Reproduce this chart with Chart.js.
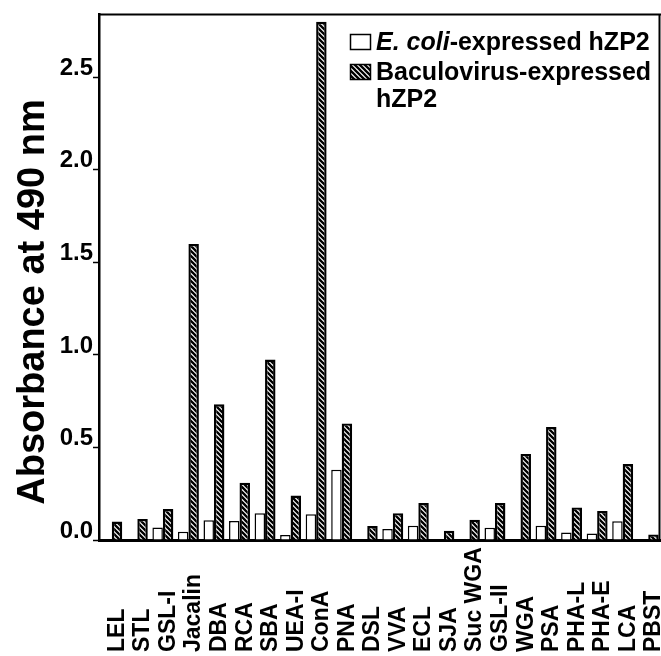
<!DOCTYPE html>
<html>
<head>
<meta charset="utf-8">
<style>
  html, body { margin: 0; padding: 0; background: #fff; }
  #wrap { width: 661px; height: 656px; }
</style>
<script src="https://cdn.jsdelivr.net/npm/chart.js@4.4.0/dist/chart.umd.min.js"></script>
</head>
<body>
<div id="wrap"><canvas id="chart" width="661" height="656"></canvas></div>
<script>
// lectins on the x axis
const lectins = ['LEL', 'STL', 'GSL-I', 'Jacalin', 'DBA', 'RCA', 'SBA', 'UEA-I', 'ConA', 'PNA', 'DSL',
  'VVA', 'ECL', 'SJA', 'Suc WGA', 'GSL-II', 'WGA', 'PSA', 'PHA-L', 'PHA-E', 'LCA', 'PBST'];
// absorbance
const ecoliValues = [0, 0, 0.068, 0.045, 0.107, 0.103, 0.144, 0.027, 0.139, 0.38, 0,
  0.06, 0.077, 0, 0, 0.066, 0, 0.077, 0.04, 0.035, 0.101, 0];
const baculoValues = [0.10, 0.114, 0.167, 1.60, 0.733, 0.31, 0.975, 0.24, 2.80, 0.63, 0.075,
  0.145, 0.20, 0.05, 0.11, 0.20, 0.465, 0.61, 0.176, 0.157, 0.41, 0.03];
const yTicks = [0, 0.5, 1.0, 1.5, 2.0, 2.5];
const yTitle = 'Absorbance at 490 nm';
const seriesNames = ['E. coli-expressed hZP2', 'Baculovirus-expressed hZP2'];

const canvas = document.getElementById('chart');
const ctx = canvas.getContext('2d');

function makeHatch(size, lw) {
  const c = document.createElement('canvas');
  c.width = size; c.height = size;
  const g = c.getContext('2d');
  g.fillStyle = '#fff';
  g.fillRect(0, 0, size, size);
  g.strokeStyle = '#000';
  g.lineWidth = lw;
  g.beginPath();
  g.moveTo(-1, -1); g.lineTo(size + 1, size + 1);
  g.moveTo(-1, size - 1); g.lineTo(1, size + 1);
  g.moveTo(size - 1, -1); g.lineTo(size + 1, 1);
  g.stroke();
  return ctx.createPattern(c, 'repeat');
}
const hatch = makeHatch(5, 2.3);

const FONT = 'Arial, "Liberation Sans", sans-serif';

const decor = {
  id: 'decor',
  afterDraw(chart) {
    const { ctx, chartArea: a, scales: { x } } = chart;
    ctx.save();
    // top and right frame
    ctx.strokeStyle = '#000';
    ctx.lineWidth = 2;
    ctx.beginPath();
    ctx.moveTo(a.left, a.top);
    ctx.lineTo(a.right, a.top);
    ctx.moveTo(a.right - 1.5, a.top);
    ctx.lineTo(a.right - 1.5, a.bottom);
    ctx.stroke();

    // x labels, bottom aligned
    ctx.fillStyle = '#000';
    ctx.font = 'bold 23px ' + FONT;
    ctx.textAlign = 'left';
    ctx.textBaseline = 'alphabetic';
    lectins.forEach((lab, i) => {
      const px = x.getPixelForValue(i) + 4 + 8;
      ctx.save();
      ctx.translate(px, 652);
      ctx.rotate(-Math.PI / 2);
      ctx.fillText(lab, 0, 0);
      ctx.restore();
    });

    // y title
    ctx.font = 'bold 38px ' + FONT;
    ctx.textAlign = 'center';
    ctx.save();
    ctx.translate(44, 302);
    ctx.rotate(-Math.PI / 2);
    ctx.fillText(yTitle, 0, 0);
    ctx.restore();

    // legend
    ctx.lineWidth = 1.5;
    ctx.fillStyle = '#fff';
    ctx.fillRect(350.5, 34.5, 20, 15);
    ctx.strokeRect(350.5, 34.5, 20, 15);
    ctx.fillStyle = hatch;
    ctx.fillRect(350.5, 64.5, 20, 15);
    ctx.strokeRect(350.5, 64.5, 20, 15);

    ctx.fillStyle = '#000';
    ctx.textAlign = 'left';
    ctx.font = 'italic bold 25px ' + FONT;
    ctx.fillText('E. coli', 376, 50);
    const w = ctx.measureText('E. coli').width;
    ctx.font = 'bold 25px ' + FONT;
    ctx.fillText('-expressed hZP2', 376 + w, 50);
    ctx.fillText('Baculovirus-expressed', 376, 80);
    ctx.fillText('hZP2', 376, 107);
    ctx.restore();
  }
};

new Chart(ctx, {
  type: 'bar',
  data: {
    labels: lectins,
    datasets: [
      {
        label: seriesNames[0],
        data: ecoliValues,
        backgroundColor: '#fff',
        borderColor: '#000',
        borderWidth: 1.5
      },
      {
        label: seriesNames[1],
        data: baculoValues,
        backgroundColor: hatch,
        borderColor: '#000',
        borderWidth: 2.4
      }
    ]
  },
  options: {
    responsive: false,
    animation: false,
    categoryPercentage: 0.82,
    barPercentage: 1.0,
    layout: { padding: { top: 10, right: 0, bottom: 108, left: 0 } },
    plugins: { legend: { display: false }, tooltip: { enabled: false } },
    scales: {
      x: {
        ticks: { display: false },
        grid: { display: false },
        border: { display: true, color: '#000', width: 3 }
      },
      y: {
        min: 0,
        max: 2.84,
        afterFit(scale) { scale.width = 99; },
        afterBuildTicks(scale) { scale.ticks = yTicks.map(v => ({ value: v })); },
        ticks: {
          color: '#000',
          font: { family: FONT, size: 24, weight: 'bold' },
          padding: 0,
          labelOffset: -9,
          callback: v => v.toFixed(1)
        },
        grid: { drawOnChartArea: false, tickLength: 6, tickColor: '#000', tickWidth: 1.5 },
        border: { color: '#000', width: 2.5 }
      }
    }
  },
  plugins: [decor]
});
</script>
</body>
</html>
